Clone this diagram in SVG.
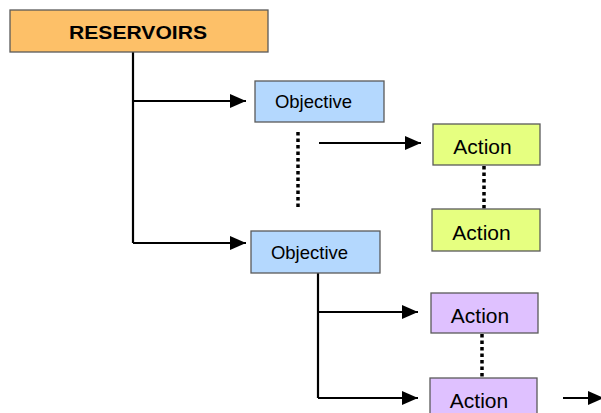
<svg xmlns="http://www.w3.org/2000/svg" width="601" height="413" viewBox="0 0 601 413">
<defs>
<marker id="ah" markerWidth="16" markerHeight="14" refX="16" refY="7" orient="auto" markerUnits="userSpaceOnUse">
<path d="M0,0 L16,7 L0,14 Z" fill="#000"/>
</marker>
<style>
.box{stroke:#5a5a5a;stroke-width:1.3}
.t{font-family:"Liberation Sans",Arial,sans-serif;fill:#000}
.line{stroke:#000;stroke-width:2.2;fill:none}
.arr{stroke:#000;stroke-width:2.2;fill:none;marker-end:url(#ah)}
.dot{stroke:#000;stroke-width:3.5;stroke-dasharray:3.5 3;fill:none}
</style>
</defs>
<rect width="601" height="413" fill="#fff"/>
<g id="connectors">
<path class="line" d="M133,52 V243"/>
<path class="arr" d="M133,101 H246"/>
<path class="arr" d="M133,243 H246"/>
<path class="dot" d="M298,132 V207"/>
<path class="arr" d="M319,143 H421"/>
<path class="dot" d="M484,166 V209"/>
<path class="line" d="M318,273 V398"/>
<path class="arr" d="M318,312 H418"/>
<path class="arr" d="M318,398 H418"/>
<path class="dot" d="M482,334 V378"/>
<path class="arr" d="M563,398 H604"/>
</g>
<g id="reservoirs">
<rect class="box" x="10" y="10" width="258" height="42" fill="#FDC068"/>
<text class="t" x="69" y="39" font-size="19" font-weight="bold" textLength="138" lengthAdjust="spacingAndGlyphs">RESERVOIRS</text>
</g>
<g id="objective1">
<rect class="box" x="255" y="81" width="129" height="41" fill="#B4D8FE"/>
<text class="t" x="313.5" y="108" font-size="18.5" text-anchor="middle">Objective</text>
</g>
<g id="objective2">
<rect class="box" x="251" y="231" width="129" height="42" fill="#B4D8FE"/>
<text class="t" x="309.5" y="258.5" font-size="18.5" text-anchor="middle">Objective</text>
</g>
<g id="action-g1">
<rect class="box" x="433" y="124" width="107" height="41" fill="#E6FF80"/>
<text class="t" x="482.5" y="154" font-size="21" text-anchor="middle">Action</text>
</g>
<g id="action-g2">
<rect class="box" x="432" y="209" width="108" height="42" fill="#E6FF80"/>
<text class="t" x="481.5" y="240" font-size="21" text-anchor="middle">Action</text>
</g>
<g id="action-p1">
<rect class="box" x="431" y="293" width="107" height="40" fill="#DFC1FF"/>
<text class="t" x="480" y="323" font-size="21" text-anchor="middle">Action</text>
</g>
<g id="action-p2">
<rect class="box" x="430" y="378" width="107" height="40" fill="#DFC1FF"/>
<text class="t" x="479" y="408" font-size="21" text-anchor="middle">Action</text>
</g>
</svg>
